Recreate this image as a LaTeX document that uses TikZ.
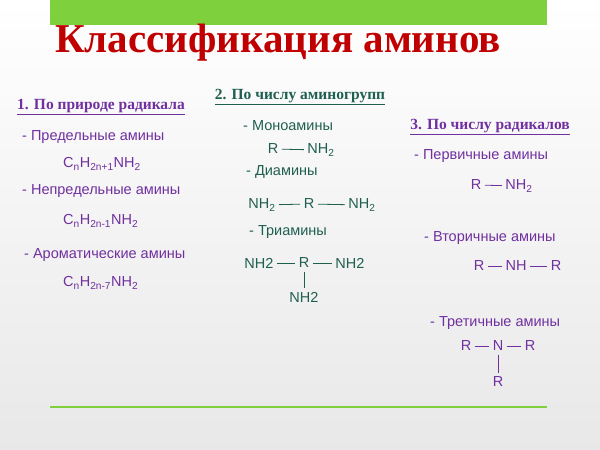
\documentclass[tikz,border=0pt]{standalone}
\usepackage{fontspec}
\setmainfont{Liberation Sans}
\newfontfamily\headfont{Liberation Serif}
\usepackage{xcolor}
\usetikzlibrary{positioning}
\definecolor{bargreen}{HTML}{7ED13C}
\definecolor{titlered}{HTML}{C00000}
\definecolor{lilac}{HTML}{7030A0}
\definecolor{aminteal}{HTML}{1F5F4F}

\begin{document}
\begin{tikzpicture}[x=1pt, y=-1pt,
    head/.style={font=\headfont\fontsize{15.5}{17}\selectfont\bfseries, inner sep=0pt},
    item/.style={anchor=west, font=\fontsize{14.5}{16}\selectfont, inner sep=0pt},
    chem/.style={font=\fontsize{14.5}{16}\selectfont, inner sep=1pt},
    bond/.style={line width=0.8pt, shorten >=2.5pt, shorten <=2.5pt},
  ]

  % background
  \shade[top color=white, bottom color=gray!18] (0,0) rectangle (600,450);
  \useasboundingbox (0,0) rectangle (600,450);

  % title
  \fill[bargreen] (50,0) rectangle (547,25);
  \node[font=\headfont\fontsize{41}{44}\selectfont\bfseries, text=titlered] (title) at (278,43) {Классификация аминов};

  % ===== column 1 =====
  \node[head, text=lilac] (h1) at (101,107) {\underline{1. По природе радикала}};
  \node[item, text=lilac] (pred) at (22,137) {- Предельные амины};
  \node[item, text=lilac] (fpred) at (63,164) {C\textsubscript{n}H\textsubscript{2n+1}NH\textsubscript{2}};
  \node[item, text=lilac] (nepred) at (22,191) {- Непредельные амины};
  \node[item, text=lilac] (fnepred) at (63,221) {C\textsubscript{n}H\textsubscript{2n-1}NH\textsubscript{2}};
  \node[item, text=lilac] (arom) at (24,255) {- Ароматические амины};
  \node[item, text=lilac] (farom) at (63,283) {C\textsubscript{n}H\textsubscript{2n-7}NH\textsubscript{2}};

  % ===== column 2 =====
  \node[head, text=aminteal] (h2) at (300,97) {\underline{2. По числу аминогрупп}};
  \begin{scope}[text=aminteal, aminteal]
    \node[item] (mono) at (243,126) {- Моноамины};
    \node[chem] (mR) at (273,149) {R};
    \node[chem] (mN) at (321,150) {NH\textsubscript{2}};
    \draw[bond] (mR) -- (mN);

    \node[item] (di) at (246,172) {- Диамины};
    \node[chem] (dN1) at (262,205) {NH\textsubscript{2}};
    \node[chem] (dR) at (309,204) {R};
    \node[chem] (dN2) at (362,205) {NH\textsubscript{2}};
    \draw[bond] (dN1) -- (dR);
    \draw[bond] (dR) -- (dN2);

    \node[item] (tri) at (249,232) {- Триамины};
    \node[chem] (tN1) at (259,263) {NH2};
    \node[chem] (tR) at (304,263) {R};
    \node[chem] (tN2) at (350,263) {NH2};
    \node[chem] (tN3) at (304,297) {NH2};
    \draw[bond] (tN1) -- (tR);
    \draw[bond] (tR) -- (tN2);
    \draw[bond] (tR) -- (tN3);
  \end{scope}

  % ===== column 3 =====
  \node[head, text=lilac] (h3) at (490,127) {\underline{3. По числу радикалов}};
  \begin{scope}[text=lilac, lilac]
    \node[item] (perv) at (414,156) {- Первичные амины};
    \node[chem] (pR) at (476,185) {R};
    \node[chem] (pN) at (519,186) {NH\textsubscript{2}};
    \draw[bond] (pR) -- (pN);

    \node[item] (vtor) at (424,238) {- Вторичные амины};
    \node[chem] (vR1) at (479,266) {R};
    \node[chem] (vN) at (516,266) {NH};
    \node[chem] (vR2) at (556,266) {R};
    \draw[bond] (vR1) -- (vN);
    \draw[bond] (vN) -- (vR2);

    \node[item] (tret) at (430,323) {- Третичные амины};
    \node[chem] (tr1) at (466,346) {R};
    \node[chem] (trN) at (498,346) {N};
    \node[chem] (tr2) at (530,346) {R};
    \node[chem] (tr3) at (498,382) {R};
    \draw[bond] (tr1) -- (trN);
    \draw[bond] (trN) -- (tr2);
    \draw[bond] (trN) -- (tr3);
  \end{scope}

  % bottom rule
  \draw[bargreen, line width=1.5pt] (50,407) -- (547,407);

\end{tikzpicture}
\end{document}
